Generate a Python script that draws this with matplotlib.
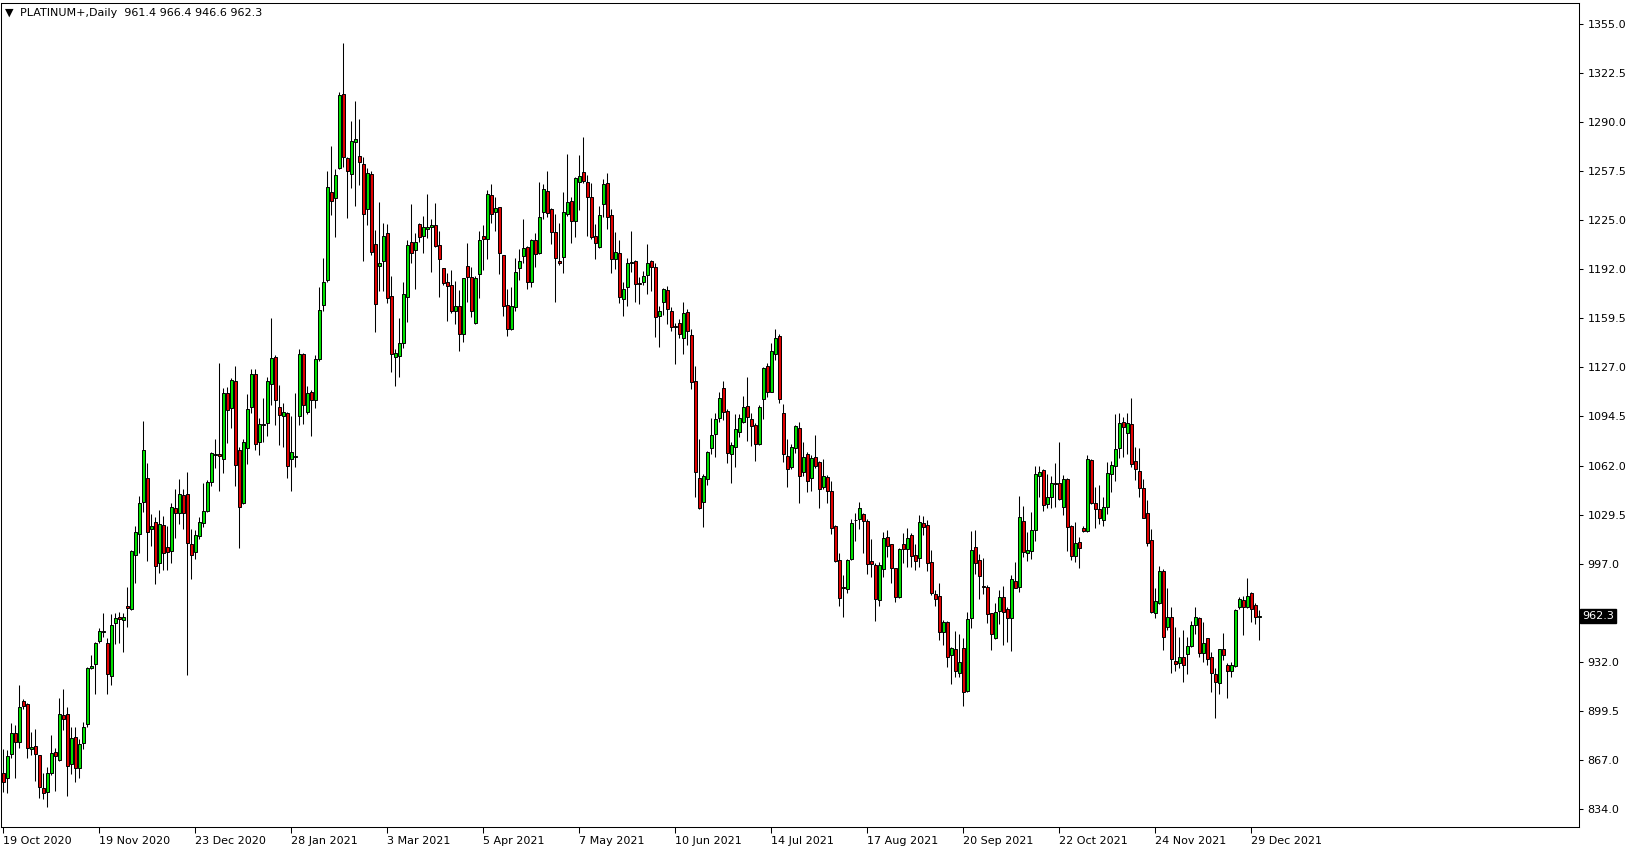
import matplotlib
matplotlib.use('Agg')
import matplotlib.pyplot as plt
import matplotlib.transforms as mtransforms
import numpy as np

# Daily OHLC for PLATINUM+, one entry per trading bar (19 Oct 2020 .. 31 Dec 2021)
opens = [
    858.4, 854.7, 870.6, 884.9, 878.5, 905.9, 903.7, 873.9, 876.1, 870.2,
    848.1, 845.4, 858.0, 871.9, 866.8, 896.7, 897.1, 864.0, 881.9, 861.3,
    877.9, 890.5, 927.6, 930.5, 945.9, 951.9, 944.2, 922.5, 957.4, 961.4,
    959.7, 968.9, 966.7, 1002.7, 1016.4, 1038.1, 1053.6, 1019.8, 1024.8, 997.2,
    1022.4, 1007.8, 1005.0, 1033.7, 1030.4, 1042.5, 1043.0, 1010.0, 1004.5, 1015.3,
    1023.7, 1032.1, 1051.3, 1069.2, 1069.5, 1066.1, 1109.9, 1100.0, 1118.3, 1072.4,
    1037.0, 1073.5, 1101.1, 1122.7, 1077.5, 1088.9, 1090.5, 1116.1, 1134.2, 1100.7,
    1095.1, 1096.7, 1066.2, 1067.8, 1094.9, 1136.0, 1097.3, 1110.6, 1105.5, 1132.7,
    1168.5, 1185.0, 1243.1, 1239.6, 1259.5, 1308.3, 1265.7, 1255.1, 1276.3, 1267.4,
    1261.7, 1232.1, 1255.1, 1208.7, 1194.5, 1197.9, 1216.0, 1174.4, 1134.2, 1134.9,
    1143.1, 1174.0, 1210.4, 1204.9, 1221.9, 1214.4, 1218.6, 1220.4, 1221.5, 1208.2,
    1192.8, 1183.5, 1181.7, 1164.1, 1167.8, 1149.0, 1194.5, 1186.8, 1156.3, 1188.8,
    1214.0, 1212.0, 1241.4, 1230.3, 1233.2, 1201.6, 1168.5, 1152.3, 1166.9, 1192.8,
    1201.1, 1206.7, 1183.5, 1211.5, 1202.7, 1229.9, 1244.0, 1231.9, 1216.6, 1197.6,
    1200.5, 1228.5, 1237.6, 1224.1, 1249.7, 1256.3, 1249.7, 1239.8, 1214.1, 1207.1,
    1235.1, 1249.1, 1228.1, 1198.7, 1202.7, 1172.2, 1180.1, 1196.0, 1197.6, 1183.0,
    1183.4, 1188.3, 1197.6, 1193.4, 1161.1, 1170.6, 1178.4, 1164.7, 1154.7, 1156.3,
    1146.3, 1164.0, 1148.6, 1118.1, 1053.6, 1038.1, 1052.9, 1073.5, 1082.7, 1093.3,
    1113.2, 1098.2, 1069.5, 1074.1, 1084.1, 1091.1, 1101.5, 1092.7, 1088.9, 1076.1,
    1105.9, 1128.0, 1111.0, 1135.7, 1147.9, 1096.6, 1068.4, 1060.9, 1073.5, 1086.7,
    1058.0, 1069.5, 1053.5, 1067.5, 1064.1, 1048.0, 1054.2, 1045.1, 1021.9, 999.4,
    981.5, 980.0, 999.9, 1025.7, 1026.6, 1029.7, 1025.3, 998.8, 996.1, 972.9,
    993.2, 1014.4, 1009.8, 993.9, 974.7, 1009.8, 1006.5, 1016.0, 1002.7, 1001.0,
    1023.7, 1022.6, 997.9, 976.9, 975.6, 951.9, 958.1, 936.5, 940.4, 924.3,
    940.9, 912.2, 960.8, 1007.8, 999.4, 981.9, 981.3, 964.1, 947.5, 965.8,
    975.1, 966.9, 961.2, 985.7, 981.3, 1025.3, 1003.8, 1005.6, 1019.3, 1055.3,
    1059.1, 1036.3, 1041.0, 1050.2, 1050.2, 1034.3, 1053.1, 1022.0, 1002.3, 1011.1,
    1020.4, 1018.9, 1065.7, 1037.0, 1033.2, 1025.9, 1034.3, 1056.2, 1062.0, 1073.4,
    1090.7, 1083.4, 1089.6, 1065.0, 1058.4, 1047.4, 1030.4, 1012.3, 964.0, 970.7,
    992.1, 955.2, 961.4, 932.7, 930.9, 934.9, 936.9, 942.6, 956.3, 960.7,
    938.0, 947.5, 934.9, 923.8, 917.7, 940.2, 929.8, 926.0, 929.4, 968.0,
    972.9, 968.5, 977.3, 969.6, 961.4,
]
highs = [
    873.9, 873.5, 891.1, 890.0, 916.5, 907.0, 904.8, 885.6, 887.2, 870.2,
    858.4, 862.4, 883.4, 874.6, 907.7, 913.7, 902.2, 888.9, 888.5, 880.5,
    892.2, 928.7, 936.4, 945.3, 954.5, 964.5, 947.5, 963.6, 964.0, 965.2,
    964.5, 981.3, 1006.1, 1022.0, 1041.8, 1091.5, 1063.5, 1029.9, 1027.7, 1032.6,
    1028.6, 1022.0, 1037.0, 1046.3, 1052.9, 1046.3, 1057.5, 1020.0, 1019.3, 1028.1,
    1050.7, 1052.4, 1071.2, 1079.4, 1129.8, 1113.6, 1114.3, 1119.8, 1128.0, 1074.2,
    1079.5, 1109.3, 1125.8, 1125.8, 1093.4, 1106.6, 1120.5, 1159.6, 1135.3, 1115.5,
    1103.3, 1097.8, 1094.9, 1110.4, 1139.1, 1136.4, 1114.8, 1112.1, 1135.3, 1180.2,
    1199.4, 1257.3, 1274.1, 1258.4, 1309.8, 1341.9, 1266.8, 1290.4, 1303.7, 1291.7,
    1266.8, 1259.0, 1257.3, 1218.2, 1236.9, 1223.0, 1222.2, 1187.9, 1139.3, 1159.6,
    1183.5, 1211.5, 1235.4, 1216.0, 1222.6, 1227.5, 1242.0, 1225.2, 1236.3, 1217.5,
    1193.2, 1189.5, 1191.7, 1184.4, 1178.4, 1186.6, 1209.3, 1193.4, 1187.7, 1217.7,
    1221.5, 1244.7, 1248.6, 1239.8, 1233.6, 1201.6, 1179.1, 1180.2, 1199.4, 1205.3,
    1225.5, 1207.8, 1212.2, 1215.9, 1250.2, 1248.6, 1257.3, 1232.5, 1228.8, 1223.0,
    1243.1, 1268.5, 1239.8, 1253.1, 1267.8, 1279.5, 1254.6, 1249.1, 1221.9, 1234.0,
    1251.7, 1255.7, 1231.8, 1217.0, 1211.5, 1183.9, 1199.8, 1217.5, 1198.2, 1187.2,
    1191.2, 1208.8, 1198.2, 1196.0, 1167.8, 1179.9, 1181.0, 1167.3, 1156.3, 1158.9,
    1170.6, 1165.8, 1152.3, 1128.0, 1079.6, 1056.4, 1071.7, 1093.8, 1096.6, 1111.0,
    1118.1, 1099.5, 1077.4, 1096.2, 1096.2, 1108.1, 1121.0, 1096.6, 1090.5, 1102.2,
    1127.6, 1130.2, 1143.0, 1152.3, 1149.0, 1102.8, 1079.6, 1076.3, 1088.9, 1091.1,
    1077.4, 1070.8, 1069.0, 1082.3, 1065.2, 1066.1, 1055.8, 1052.0, 1022.6, 1003.8,
    989.5, 999.9, 1026.6, 1030.8, 1038.1, 1030.3, 1026.4, 1013.3, 997.2, 998.3,
    1017.8, 1019.3, 1010.0, 994.3, 1007.2, 1017.1, 1020.8, 1017.1, 1010.0, 1029.2,
    1028.6, 1025.9, 1006.0, 979.5, 984.0, 959.7, 959.0, 942.0, 952.4, 950.4,
    947.9, 965.2, 1018.6, 1019.3, 1003.2, 1000.5, 982.8, 964.1, 970.7, 979.5,
    982.2, 968.0, 989.5, 998.3, 1041.8, 1035.2, 1018.2, 1031.4, 1061.7, 1061.7,
    1059.7, 1056.4, 1055.1, 1063.5, 1077.4, 1055.8, 1053.6, 1022.6, 1024.4, 1014.9,
    1022.0, 1069.0, 1066.4, 1048.0, 1049.1, 1041.4, 1064.6, 1065.3, 1096.2, 1096.6,
    1094.4, 1096.6, 1106.6, 1074.1, 1073.4, 1052.9, 1039.2, 1019.8, 980.6, 995.4,
    993.2, 980.6, 968.0, 954.8, 948.1, 953.0, 948.6, 959.0, 968.0, 961.8,
    958.5, 947.9, 938.2, 927.6, 940.2, 950.8, 931.3, 931.6, 966.7, 975.1,
    975.7, 987.2, 978.4, 970.7, 966.4,
]
lows = [
    845.9, 844.8, 867.9, 854.7, 874.6, 900.4, 867.9, 870.2, 853.1, 841.5,
    840.8, 835.9, 856.9, 846.5, 866.4, 886.7, 843.0, 857.6, 852.5, 854.7,
    873.9, 888.9, 926.9, 910.6, 944.2, 948.1, 910.4, 916.5, 943.7, 944.6,
    938.7, 955.2, 966.3, 984.4, 1003.8, 1031.5, 999.0, 1008.9, 983.3, 991.0,
    992.8, 992.8, 997.7, 1014.2, 1023.1, 1019.8, 923.2, 986.6, 999.9, 1013.1,
    1021.5, 1031.5, 1048.5, 1060.6, 1045.4, 1057.3, 1077.2, 1087.1, 1048.1, 1007.2,
    1036.6, 1063.1, 1096.7, 1072.4, 1069.1, 1077.5, 1081.7, 1102.2, 1089.0, 1075.7,
    1074.6, 1054.0, 1044.8, 1061.3, 1089.0, 1089.6, 1096.2, 1081.7, 1100.0, 1131.4,
    1164.1, 1183.9, 1228.1, 1213.8, 1258.6, 1260.1, 1225.9, 1246.2, 1234.3, 1248.0,
    1197.6, 1221.5, 1201.6, 1150.8, 1177.7, 1177.7, 1170.0, 1124.3, 1114.4, 1120.5,
    1139.8, 1157.0, 1196.5, 1179.1, 1210.4, 1203.1, 1212.7, 1190.6, 1207.1, 1173.5,
    1181.7, 1158.1, 1163.0, 1155.7, 1138.0, 1144.2, 1170.7, 1160.7, 1155.6, 1173.3,
    1191.7, 1198.7, 1222.6, 1217.7, 1189.0, 1161.4, 1148.1, 1151.9, 1164.7, 1185.0,
    1196.1, 1178.8, 1180.2, 1193.9, 1202.3, 1225.4, 1226.5, 1208.9, 1170.7, 1195.0,
    1189.9, 1227.7, 1209.8, 1213.7, 1231.4, 1249.1, 1214.2, 1211.9, 1198.7, 1206.0,
    1227.0, 1218.6, 1189.4, 1192.3, 1170.0, 1161.4, 1168.0, 1190.5, 1170.6, 1168.9,
    1181.7, 1175.5, 1177.9, 1147.5, 1140.8, 1161.8, 1155.6, 1151.4, 1129.1, 1146.3,
    1135.7, 1141.9, 1112.6, 1041.0, 1033.3, 1021.5, 1049.2, 1069.5, 1067.5, 1090.7,
    1092.2, 1063.5, 1050.7, 1061.3, 1081.2, 1090.0, 1078.5, 1075.0, 1065.3, 1075.7,
    1092.7, 1107.2, 1110.6, 1132.0, 1103.7, 1064.0, 1048.0, 1059.8, 1070.6, 1037.4,
    1055.3, 1044.7, 1045.4, 1060.6, 1033.7, 1046.2, 1037.0, 1016.4, 998.3, 969.2,
    961.9, 977.8, 999.4, 1012.2, 1019.7, 1004.3, 990.1, 988.4, 959.2, 969.2,
    987.9, 1001.6, 984.0, 971.4, 974.0, 997.2, 995.0, 995.0, 992.8, 995.0,
    1016.0, 992.1, 976.2, 969.2, 946.4, 943.1, 928.7, 917.2, 922.1, 922.1,
    902.9, 911.7, 954.6, 989.9, 973.6, 976.7, 957.4, 939.8, 947.1, 956.8,
    943.1, 945.3, 939.1, 980.6, 978.4, 1001.6, 998.8, 1000.1, 1012.0, 1041.0,
    1032.1, 1033.7, 1033.7, 1034.8, 1039.2, 1029.3, 1005.4, 999.4, 997.9, 993.9,
    1018.2, 1017.6, 1036.6, 1020.4, 1023.3, 1022.0, 1029.9, 1044.7, 1052.0, 1067.3,
    1067.9, 1069.5, 1061.3, 1052.5, 1041.4, 1027.1, 1008.7, 964.1, 960.7, 970.2,
    939.7, 953.0, 924.3, 925.8, 928.0, 918.8, 923.6, 942.0, 950.1, 935.3,
    932.0, 929.8, 912.1, 894.5, 910.4, 933.1, 907.7, 921.6, 928.7, 966.9,
    949.7, 967.4, 958.5, 956.8, 946.6,
]
closes = [
    852.5, 869.5, 884.9, 879.0, 902.2, 902.8, 874.6, 875.2, 870.6, 848.7,
    844.8, 858.4, 871.3, 869.7, 897.1, 893.8, 862.9, 881.2, 861.3, 877.4,
    888.5, 927.6, 929.1, 944.2, 952.6, 952.3, 923.6, 956.3, 960.7, 960.1,
    961.4, 967.4, 1005.4, 1018.2, 1037.0, 1072.3, 1017.8, 1022.2, 995.5, 1023.1,
    1003.8, 1004.5, 1034.3, 1030.4, 1043.0, 1030.4, 1010.5, 1002.7, 1016.0, 1024.4,
    1031.9, 1051.3, 1070.1, 1069.5, 1068.6, 1109.9, 1098.8, 1118.7, 1062.4, 1034.8,
    1077.9, 1099.6, 1122.7, 1076.4, 1089.6, 1089.8, 1117.7, 1133.1, 1105.1, 1095.6,
    1097.8, 1062.0, 1070.8, 1068.0, 1136.0, 1101.8, 1109.9, 1105.1, 1132.7, 1165.2,
    1183.9, 1246.9, 1237.6, 1254.6, 1307.6, 1266.8, 1257.3, 1277.2, 1278.3, 1263.0,
    1228.6, 1255.7, 1203.8, 1168.9, 1196.1, 1214.2, 1172.9, 1135.8, 1136.9, 1143.1,
    1175.5, 1208.2, 1202.7, 1210.0, 1213.8, 1219.9, 1219.9, 1221.3, 1207.8, 1198.7,
    1183.3, 1181.3, 1164.1, 1167.8, 1149.0, 1186.1, 1187.2, 1164.7, 1186.1, 1211.5,
    1212.4, 1241.8, 1228.5, 1232.5, 1202.7, 1168.0, 1152.3, 1168.0, 1190.1, 1197.8,
    1206.0, 1183.5, 1211.5, 1202.0, 1226.6, 1245.1, 1229.2, 1217.1, 1199.4, 1196.1,
    1229.9, 1236.9, 1224.3, 1252.4, 1253.9, 1250.8, 1239.8, 1213.7, 1209.3, 1228.1,
    1248.4, 1226.5, 1198.7, 1203.3, 1173.5, 1178.8, 1196.0, 1196.9, 1182.1, 1182.6,
    1187.6, 1196.0, 1193.4, 1160.2, 1164.7, 1178.8, 1165.5, 1153.6, 1154.0, 1149.0,
    1163.3, 1151.2, 1117.2, 1058.0, 1033.7, 1055.3, 1070.8, 1082.3, 1092.9, 1106.6,
    1097.3, 1070.1, 1075.7, 1086.3, 1093.3, 1100.6, 1094.4, 1088.5, 1076.1, 1100.6,
    1126.5, 1111.0, 1138.2, 1146.3, 1105.9, 1069.5, 1059.5, 1074.6, 1088.3, 1055.1,
    1067.5, 1052.0, 1066.8, 1061.9, 1046.2, 1055.3, 1045.4, 1020.8, 998.8, 974.0,
    981.1, 999.4, 1023.7, 1026.1, 1033.7, 1025.3, 996.6, 996.8, 973.4, 996.1,
    1014.2, 1008.9, 993.9, 974.7, 1006.5, 1006.5, 1013.8, 1002.1, 999.0, 1024.4,
    1021.5, 997.6, 977.3, 973.6, 951.5, 958.1, 934.9, 941.3, 926.1, 931.6,
    911.7, 960.3, 1006.0, 997.6, 989.0, 981.5, 963.4, 950.2, 964.7, 974.7,
    965.2, 961.2, 986.6, 981.1, 1027.7, 1004.9, 1006.0, 1019.3, 1056.4, 1057.5,
    1035.9, 1041.0, 1050.2, 1049.6, 1039.6, 1052.9, 1021.1, 1002.1, 1010.5, 1007.6,
    1018.7, 1066.2, 1037.4, 1033.2, 1027.5, 1034.3, 1056.9, 1062.4, 1072.8, 1090.0,
    1087.8, 1090.0, 1063.1, 1059.5, 1047.4, 1027.5, 1010.5, 965.2, 972.4, 992.1,
    948.1, 961.4, 933.6, 930.3, 934.9, 929.8, 942.4, 956.3, 961.4, 938.0,
    944.2, 933.6, 924.3, 918.8, 940.2, 936.4, 926.0, 929.8, 966.3, 973.5,
    968.5, 975.5, 966.7, 961.8, 962.3,
]

# Time-axis labels (one every 24 bars) and right price scale
date_labels = ["19 Oct 2020", "19 Nov 2020", "23 Dec 2020", "28 Jan 2021",
               "3 Mar 2021", "5 Apr 2021", "7 May 2021", "10 Jun 2021",
               "14 Jul 2021", "17 Aug 2021", "20 Sep 2021", "22 Oct 2021",
               "24 Nov 2021", "29 Dec 2021"]
price_ticks = [1355.0, 1322.5, 1290.0, 1257.5, 1225.0, 1192.0, 1159.5, 1127.0,
               1094.5, 1062.0, 1029.5, 997.0, 932.0, 899.5, 867.0, 834.0]
symbol = "PLATINUM+,Daily"

o = np.array(opens)
h = np.array(highs)
l = np.array(lows)
c = np.array(closes)
x = np.arange(len(o))

W, H = 1629, 850
fig = plt.figure(figsize=(W / 100, H / 100), dpi=100)
fig.patch.set_facecolor('white')

# plot area in pixels: left 1, right 1579, top 2.7, bottom 826.5
ax = fig.add_axes([1 / W, (H - 826.5) / H, 1578 / W, (826.5 - 2.7) / H])
ax.set_facecolor('white')

up = c >= o
body_colors = np.where(up, '#00e000', '#e00000')
body_bottom = np.minimum(o, c)
body_height = np.abs(c - o)

# wicks then bodies
ax.vlines(x, l, h, color='black', linewidth=0.75, zorder=2)
ax.bar(x, body_height, bottom=body_bottom, width=0.68, color=body_colors,
       edgecolor='black', linewidth=0.7, zorder=3)

ax.set_xlim(-0.575, 393.9)
ax.set_ylim(822.7, 1368.8)

for side in ['left', 'right', 'top', 'bottom']:
    ax.spines[side].set_color('black')
    ax.spines[side].set_linewidth(0.75)

# right price scale
ax.yaxis.tick_right()
ax.set_yticks(price_ticks)
ax.set_yticklabels([f"{p:.1f}" for p in price_ticks])
ax.tick_params(axis='y', direction='out', length=3, width=0.75, pad=3,
               labelsize=8, colors='black')

# bottom date scale
ax.set_xticks(np.arange(len(date_labels)) * 24)
ax.set_xticklabels(date_labels)
for lab in ax.get_xticklabels():
    lab.set_horizontalalignment('left')
ax.tick_params(axis='x', direction='out', length=4, width=0.75, pad=3,
               labelsize=8, colors='black')

# last price marker on the scale
trans = mtransforms.blended_transform_factory(ax.transAxes, ax.transData)
ax.annotate(f"{c[-1]:.1f}", xy=(1.0, c[-1]), xycoords=trans,
            xytext=(2, 0), textcoords='offset points', ha='left', va='center',
            fontsize=8, color='white',
            bbox=dict(boxstyle='square,pad=0.2', facecolor='black',
                      edgecolor='black'),
            annotation_clip=False)

# header line
fig.text(5 / W, 1 - 13 / H, "\u25bc", fontsize=8, ha='left', va='center')
fig.text(20 / W, 1 - 13 / H,
         f"{symbol}  {o[-1]:.1f} {h[-1]:.1f} {l[-1]:.1f} {c[-1]:.1f}",
         fontsize=8, ha='left', va='center')

fig.savefig('out.png', dpi=100)
